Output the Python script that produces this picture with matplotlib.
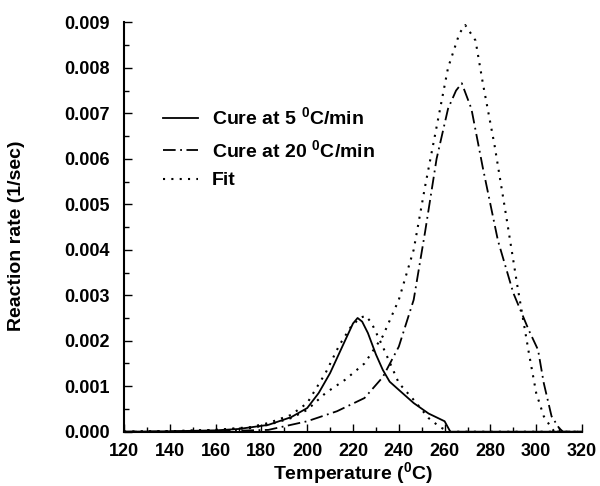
import matplotlib
matplotlib.use("Agg")
import matplotlib.pyplot as plt
from matplotlib.ticker import MultipleLocator, FormatStrFormatter

plt.rcParams['font.family'] = ['Liberation Sans', 'DejaVu Sans']
plt.rcParams['font.weight'] = 'bold'
plt.rcParams['mathtext.fontset'] = 'custom'
plt.rcParams['mathtext.bf'] = 'Liberation Sans:bold'
plt.rcParams['mathtext.rm'] = 'Liberation Sans:bold'
plt.rcParams['mathtext.default'] = 'bf'

# Cure at 5 C/min (measured)
t5 = [120, 140, 160, 170, 183, 193, 200, 205, 210, 216.5, 220, 222, 224, 226.5, 230, 233, 236, 240, 246.5, 253, 260, 262.5, 320]
r5 = [0, 0.00001, 0.00003, 0.00006, 0.00015, 0.00032, 0.00052, 0.00085, 0.00129, 0.002, 0.00238, 0.0025, 0.00242, 0.00217, 0.0017, 0.00136, 0.0011, 0.00092, 0.00063, 0.0004, 0.00023, 0.0, 0.0]
# Fit for 5 C/min
tf5 = [120, 140, 160, 175, 183, 193, 200, 208, 214, 219, 223, 225.5, 228, 233, 240, 246.5, 253, 258, 262, 320]
rf5 = [0, 0.00001, 0.00004, 0.0001, 0.00019, 0.00037, 0.00063, 0.00129, 0.0019, 0.0023, 0.0025, 0.00255, 0.0024, 0.00187, 0.00107, 0.0007, 0.0003, 0.0001, 0.0, 0.0]
# Cure at 20 C/min (measured)
t20 = [120, 160, 183, 200, 213, 225, 233, 240, 246.5, 251.5, 256.5, 261.5, 265, 267.5, 271.7, 276.7, 283.3, 290, 296.7, 300.8, 303.3, 306.7, 310, 311.7, 320]
r20 = [0, 0.00001, 0.00004, 0.00023, 0.00045, 0.00074, 0.0012, 0.00187, 0.0029, 0.0044, 0.006, 0.0071, 0.0075, 0.00766, 0.0071, 0.0058, 0.0042, 0.00305, 0.00224, 0.0018, 0.00107, 0.00034, 0.00008, 0.0, 0.0]
# Fit for 20 C/min
tf20 = [120, 140, 160, 175, 183, 193, 200, 208, 216.5, 225, 233, 240, 246.5, 251.5, 256.5, 261.5, 266.5, 269, 273.5, 276.7, 281.8, 286.7, 291.8, 296.8, 300, 303.3, 306.7, 308, 320]
rf20 = [0, 0.00001, 0.00004, 0.00008, 0.00015, 0.0003, 0.00048, 0.00085, 0.00114, 0.0015, 0.0021, 0.0029, 0.004, 0.0054, 0.0067, 0.008, 0.00876, 0.00894, 0.0086, 0.00766, 0.0063, 0.0048, 0.0032, 0.00173, 0.00085, 0.00034, 0.00008, 0.0, 0.0]

fig = plt.figure(figsize=(6, 4.86), dpi=100)
ax = fig.add_axes([0.2067, 0.1117, 0.7633, 0.8424])

ax.plot(t5, r5, color='black', lw=1.3, ls='-', label='Cure at 5 $^{0}$C/min')
ax.plot(t20, r20, color='black', lw=1.3, ls=(0, (7, 2.5, 1, 2.5)), label='Cure at 20 $^{0}$C/min')
ax.plot(tf5, rf5, color='black', lw=1.5, ls=(0, (1, 3)), label='Fit')
ax.plot(tf20, rf20, color='black', lw=1.5, ls=(0, (1, 3)))

ax.set_xlim(120, 320)
ax.set_ylim(0, 0.009)
ax.xaxis.set_major_locator(MultipleLocator(20))
ax.xaxis.set_minor_locator(MultipleLocator(10))
ax.yaxis.set_major_locator(MultipleLocator(0.001))
ax.yaxis.set_minor_locator(MultipleLocator(0.0005))
ax.yaxis.set_major_formatter(FormatStrFormatter('%.3f'))
ax.tick_params(which='both', direction='in', labelsize=13, width=1)
ax.tick_params(which='major', length=6)
ax.tick_params(which='minor', length=3.5)
ax.tick_params(axis='x', pad=8)
ax.tick_params(axis='y', pad=10)
for s in ['top', 'right']:
    ax.spines[s].set_visible(False)
for s in ['left', 'bottom']:
    ax.spines[s].set_linewidth(1.5)

ax.set_xlabel('Temperature ($^{0}$C)', fontsize=14, fontweight='bold', labelpad=0)
ax.set_ylabel('Reaction rate (1/sec)', fontsize=14, fontweight='bold')
ax.yaxis.set_label_coords(-0.216, 0.478)

leg = ax.legend(loc='center left', bbox_to_anchor=(0.085, 0.693), frameon=False, fontsize=14,
                handlelength=1.8, handletextpad=0.72, labelspacing=0.55,
                borderpad=0, borderaxespad=0)

fig.savefig('out.png', dpi=100)
